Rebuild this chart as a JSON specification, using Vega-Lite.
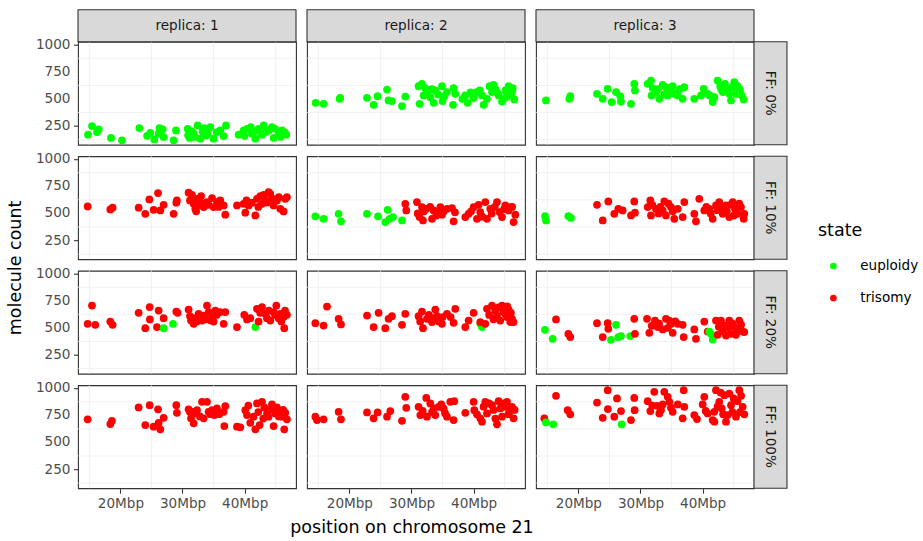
{
  "$schema": "https://vega.github.io/schema/vega-lite/v6.json",
  "background": "white",
  "padding": {"left": 6, "top": 7.7, "right": 5, "bottom": 5},
  "config": {
    "font": "DejaVu Sans",
    "view": {"stroke": "#333333", "strokeWidth": 1.1},
    "axis": {"domain": false, "labelFont": "DejaVu Sans", "labelFontSize": 13.6, "labelColor": "#4D4D4D", "tickColor": "#333333", "tickSize": 4.5, "tickWidth": 1.1, "gridColor": "#E6E6E6", "gridWidth": 1.3, "labelPadding": 3},
    "header": {"titleFont": "DejaVu Sans", "titleFontSize": 17.5, "titleFontWeight": "normal", "titleColor": "#000000"},
    "legend": {"titleFont": "DejaVu Sans", "labelFont": "DejaVu Sans", "symbolOffset": 8.6}
  },
  "data": {"values": [
{"r":1,"f":0,"x":14.79,"y":170,"s":"e"},{"r":1,"f":0,"x":15.43,"y":250,"s":"e"},{"r":1,"f":0,"x":16.24,"y":195,"s":"e"},{"r":1,"f":0,"x":16.51,"y":219,"s":"e"},{"r":1,"f":0,"x":18.49,"y":140,"s":"e"},{"r":1,"f":0,"x":20.26,"y":118,"s":"e"},{"r":1,"f":0,"x":23.05,"y":231,"s":"e"},{"r":1,"f":0,"x":24.3,"y":160,"s":"e"},{"r":1,"f":0,"x":24.82,"y":188,"s":"e"},{"r":1,"f":0,"x":25.46,"y":127,"s":"e"},{"r":1,"f":0,"x":26.16,"y":179,"s":"e"},{"r":1,"f":0,"x":26.3,"y":230,"s":"e"},{"r":1,"f":0,"x":26.8,"y":219,"s":"e"},{"r":1,"f":0,"x":26.96,"y":149,"s":"e"},{"r":1,"f":0,"x":28.57,"y":118,"s":"e"},{"r":1,"f":0,"x":28.95,"y":210,"s":"e"},{"r":1,"f":0,"x":30.83,"y":225,"s":"e"},{"r":1,"f":0,"x":30.9,"y":165,"s":"e"},{"r":1,"f":0,"x":31.15,"y":140,"s":"e"},{"r":1,"f":0,"x":31.5,"y":200,"s":"e"},{"r":1,"f":0,"x":31.79,"y":179,"s":"e"},{"r":1,"f":0,"x":32.0,"y":150,"s":"e"},{"r":1,"f":0,"x":32.44,"y":256,"s":"e"},{"r":1,"f":0,"x":32.87,"y":133,"s":"e"},{"r":1,"f":0,"x":33.24,"y":200,"s":"e"},{"r":1,"f":0,"x":33.5,"y":230,"s":"e"},{"r":1,"f":0,"x":33.83,"y":164,"s":"e"},{"r":1,"f":0,"x":34.0,"y":180,"s":"e"},{"r":1,"f":0,"x":34.48,"y":241,"s":"e"},{"r":1,"f":0,"x":35.01,"y":133,"s":"e"},{"r":1,"f":0,"x":35.5,"y":195,"s":"e"},{"r":1,"f":0,"x":36.09,"y":210,"s":"e"},{"r":1,"f":0,"x":36.62,"y":158,"s":"e"},{"r":1,"f":0,"x":37.0,"y":256,"s":"e"},{"r":1,"f":0,"x":39.04,"y":170,"s":"e"},{"r":1,"f":0,"x":39.84,"y":210,"s":"e"},{"r":1,"f":0,"x":40.0,"y":160,"s":"e"},{"r":1,"f":0,"x":40.38,"y":225,"s":"e"},{"r":1,"f":0,"x":41.0,"y":240,"s":"e"},{"r":1,"f":0,"x":41.18,"y":179,"s":"e"},{"r":1,"f":0,"x":41.72,"y":133,"s":"e"},{"r":1,"f":0,"x":42.0,"y":205,"s":"e"},{"r":1,"f":0,"x":42.26,"y":225,"s":"e"},{"r":1,"f":0,"x":42.8,"y":170,"s":"e"},{"r":1,"f":0,"x":43.06,"y":256,"s":"e"},{"r":1,"f":0,"x":43.4,"y":195,"s":"e"},{"r":1,"f":0,"x":43.87,"y":210,"s":"e"},{"r":1,"f":0,"x":44.41,"y":241,"s":"e"},{"r":1,"f":0,"x":44.68,"y":140,"s":"e"},{"r":1,"f":0,"x":44.9,"y":225,"s":"e"},{"r":1,"f":0,"x":45.48,"y":179,"s":"e"},{"r":1,"f":0,"x":45.8,"y":150,"s":"e"},{"r":1,"f":0,"x":46.01,"y":210,"s":"e"},{"r":1,"f":0,"x":46.4,"y":195,"s":"e"},{"r":1,"f":0,"x":46.71,"y":170,"s":"e"},
{"r":2,"f":0,"x":14.57,"y":464,"s":"e"},{"r":2,"f":0,"x":15.85,"y":455,"s":"e"},{"r":2,"f":0,"x":18.43,"y":501,"s":"e"},{"r":2,"f":0,"x":18.54,"y":510,"s":"e"},{"r":2,"f":0,"x":22.84,"y":510,"s":"e"},{"r":2,"f":0,"x":23.9,"y":446,"s":"e"},{"r":2,"f":0,"x":24.54,"y":526,"s":"e"},{"r":2,"f":0,"x":26.06,"y":587,"s":"e"},{"r":2,"f":0,"x":26.31,"y":486,"s":"e"},{"r":2,"f":0,"x":26.86,"y":480,"s":"e"},{"r":2,"f":0,"x":28.47,"y":434,"s":"e"},{"r":2,"f":0,"x":29.0,"y":522,"s":"e"},{"r":2,"f":0,"x":31.14,"y":618,"s":"e"},{"r":2,"f":0,"x":31.3,"y":455,"s":"e"},{"r":2,"f":0,"x":31.69,"y":639,"s":"e"},{"r":2,"f":0,"x":31.95,"y":532,"s":"e"},{"r":2,"f":0,"x":32.2,"y":600,"s":"e"},{"r":2,"f":0,"x":32.49,"y":568,"s":"e"},{"r":2,"f":0,"x":33.03,"y":516,"s":"e"},{"r":2,"f":0,"x":33.3,"y":590,"s":"e"},{"r":2,"f":0,"x":33.56,"y":464,"s":"e"},{"r":2,"f":0,"x":33.83,"y":578,"s":"e"},{"r":2,"f":0,"x":34.3,"y":540,"s":"e"},{"r":2,"f":0,"x":34.91,"y":618,"s":"e"},{"r":2,"f":0,"x":35.0,"y":480,"s":"e"},{"r":2,"f":0,"x":35.28,"y":526,"s":"e"},{"r":2,"f":0,"x":35.71,"y":563,"s":"e"},{"r":2,"f":0,"x":36.68,"y":446,"s":"e"},{"r":2,"f":0,"x":36.78,"y":600,"s":"e"},{"r":2,"f":0,"x":37.05,"y":547,"s":"e"},{"r":2,"f":0,"x":38.2,"y":500,"s":"e"},{"r":2,"f":0,"x":38.66,"y":532,"s":"e"},{"r":2,"f":0,"x":39.03,"y":464,"s":"e"},{"r":2,"f":0,"x":39.5,"y":560,"s":"e"},{"r":2,"f":0,"x":40.0,"y":508,"s":"e"},{"r":2,"f":0,"x":40.43,"y":563,"s":"e"},{"r":2,"f":0,"x":41.0,"y":580,"s":"e"},{"r":2,"f":0,"x":41.35,"y":532,"s":"e"},{"r":2,"f":0,"x":41.6,"y":446,"s":"e"},{"r":2,"f":0,"x":42.15,"y":501,"s":"e"},{"r":2,"f":0,"x":42.57,"y":618,"s":"e"},{"r":2,"f":0,"x":42.96,"y":563,"s":"e"},{"r":2,"f":0,"x":43.22,"y":630,"s":"e"},{"r":2,"f":0,"x":43.49,"y":593,"s":"e"},{"r":2,"f":0,"x":43.8,"y":560,"s":"e"},{"r":2,"f":0,"x":44.02,"y":532,"s":"e"},{"r":2,"f":0,"x":44.57,"y":476,"s":"e"},{"r":2,"f":0,"x":44.82,"y":501,"s":"e"},{"r":2,"f":0,"x":45.1,"y":578,"s":"e"},{"r":2,"f":0,"x":45.3,"y":520,"s":"e"},{"r":2,"f":0,"x":45.63,"y":618,"s":"e"},{"r":2,"f":0,"x":45.9,"y":532,"s":"e"},{"r":2,"f":0,"x":46.17,"y":563,"s":"e"},{"r":2,"f":0,"x":46.3,"y":600,"s":"e"},{"r":2,"f":0,"x":46.55,"y":495,"s":"e"},
{"r":3,"f":0,"x":14.79,"y":486,"s":"e"},{"r":3,"f":0,"x":18.54,"y":501,"s":"e"},{"r":3,"f":0,"x":18.7,"y":526,"s":"e"},{"r":3,"f":0,"x":23.0,"y":547,"s":"e"},{"r":3,"f":0,"x":23.92,"y":501,"s":"e"},{"r":3,"f":0,"x":24.72,"y":593,"s":"e"},{"r":3,"f":0,"x":25.36,"y":471,"s":"e"},{"r":3,"f":0,"x":26.06,"y":563,"s":"e"},{"r":3,"f":0,"x":26.75,"y":526,"s":"e"},{"r":3,"f":0,"x":26.86,"y":476,"s":"e"},{"r":3,"f":0,"x":28.47,"y":455,"s":"e"},{"r":3,"f":0,"x":29.0,"y":639,"s":"e"},{"r":3,"f":0,"x":29.11,"y":578,"s":"e"},{"r":3,"f":0,"x":31.16,"y":639,"s":"e"},{"r":3,"f":0,"x":31.69,"y":670,"s":"e"},{"r":3,"f":0,"x":31.8,"y":532,"s":"e"},{"r":3,"f":0,"x":31.96,"y":600,"s":"e"},{"r":3,"f":0,"x":32.49,"y":563,"s":"e"},{"r":3,"f":0,"x":32.8,"y":590,"s":"e"},{"r":3,"f":0,"x":33.03,"y":501,"s":"e"},{"r":3,"f":0,"x":33.57,"y":630,"s":"e"},{"r":3,"f":0,"x":33.8,"y":540,"s":"e"},{"r":3,"f":0,"x":34.1,"y":609,"s":"e"},{"r":3,"f":0,"x":34.38,"y":532,"s":"e"},{"r":3,"f":0,"x":34.7,"y":560,"s":"e"},{"r":3,"f":0,"x":35.18,"y":618,"s":"e"},{"r":3,"f":0,"x":35.44,"y":547,"s":"e"},{"r":3,"f":0,"x":35.99,"y":532,"s":"e"},{"r":3,"f":0,"x":36.3,"y":590,"s":"e"},{"r":3,"f":0,"x":36.79,"y":501,"s":"e"},{"r":3,"f":0,"x":37.05,"y":609,"s":"e"},{"r":3,"f":0,"x":38.66,"y":501,"s":"e"},{"r":3,"f":0,"x":39.74,"y":532,"s":"e"},{"r":3,"f":0,"x":40.17,"y":593,"s":"e"},{"r":3,"f":0,"x":40.81,"y":547,"s":"e"},{"r":3,"f":0,"x":41.2,"y":530,"s":"e"},{"r":3,"f":0,"x":41.62,"y":471,"s":"e"},{"r":3,"f":0,"x":41.88,"y":516,"s":"e"},{"r":3,"f":0,"x":42.42,"y":670,"s":"e"},{"r":3,"f":0,"x":42.84,"y":618,"s":"e"},{"r":3,"f":0,"x":43.0,"y":590,"s":"e"},{"r":3,"f":0,"x":43.23,"y":563,"s":"e"},{"r":3,"f":0,"x":43.6,"y":639,"s":"e"},{"r":3,"f":0,"x":44.03,"y":593,"s":"e"},{"r":3,"f":0,"x":44.29,"y":547,"s":"e"},{"r":3,"f":0,"x":44.57,"y":486,"s":"e"},{"r":3,"f":0,"x":44.84,"y":609,"s":"e"},{"r":3,"f":0,"x":45.1,"y":655,"s":"e"},{"r":3,"f":0,"x":45.37,"y":547,"s":"e"},{"r":3,"f":0,"x":45.6,"y":620,"s":"e"},{"r":3,"f":0,"x":45.9,"y":593,"s":"e"},{"r":3,"f":0,"x":46.0,"y":570,"s":"e"},{"r":3,"f":0,"x":46.29,"y":532,"s":"e"},{"r":3,"f":0,"x":46.61,"y":495,"s":"e"},
{"r":1,"f":10,"x":14.73,"y":565,"s":"t"},{"r":1,"f":10,"x":18.38,"y":537,"s":"t"},{"r":1,"f":10,"x":18.75,"y":553,"s":"t"},{"r":1,"f":10,"x":22.94,"y":553,"s":"t"},{"r":1,"f":10,"x":24.01,"y":497,"s":"t"},{"r":1,"f":10,"x":24.66,"y":629,"s":"t"},{"r":1,"f":10,"x":25.35,"y":534,"s":"t"},{"r":1,"f":10,"x":26.06,"y":688,"s":"t"},{"r":1,"f":10,"x":26.43,"y":528,"s":"t"},{"r":1,"f":10,"x":26.96,"y":580,"s":"t"},{"r":1,"f":10,"x":28.57,"y":497,"s":"t"},{"r":1,"f":10,"x":29.0,"y":599,"s":"t"},{"r":1,"f":10,"x":29.1,"y":620,"s":"t"},{"r":1,"f":10,"x":30.98,"y":691,"s":"t"},{"r":1,"f":10,"x":31.2,"y":620,"s":"t"},{"r":1,"f":10,"x":31.53,"y":672,"s":"t"},{"r":1,"f":10,"x":31.8,"y":589,"s":"t"},{"r":1,"f":10,"x":32.06,"y":543,"s":"t"},{"r":1,"f":10,"x":32.2,"y":520,"s":"t"},{"r":1,"f":10,"x":32.33,"y":635,"s":"t"},{"r":1,"f":10,"x":32.59,"y":574,"s":"t"},{"r":1,"f":10,"x":32.87,"y":605,"s":"t"},{"r":1,"f":10,"x":33.0,"y":660,"s":"t"},{"r":1,"f":10,"x":33.41,"y":559,"s":"t"},{"r":1,"f":10,"x":33.94,"y":605,"s":"t"},{"r":1,"f":10,"x":34.2,"y":580,"s":"t"},{"r":1,"f":10,"x":34.75,"y":642,"s":"t"},{"r":1,"f":10,"x":35.01,"y":559,"s":"t"},{"r":1,"f":10,"x":35.55,"y":605,"s":"t"},{"r":1,"f":10,"x":35.8,"y":560,"s":"t"},{"r":1,"f":10,"x":36.08,"y":620,"s":"t"},{"r":1,"f":10,"x":36.62,"y":574,"s":"t"},{"r":1,"f":10,"x":36.89,"y":488,"s":"t"},{"r":1,"f":10,"x":38.77,"y":574,"s":"t"},{"r":1,"f":10,"x":39.83,"y":589,"s":"t"},{"r":1,"f":10,"x":40.11,"y":507,"s":"t"},{"r":1,"f":10,"x":40.3,"y":620,"s":"t"},{"r":1,"f":10,"x":40.64,"y":574,"s":"t"},{"r":1,"f":10,"x":41.18,"y":599,"s":"t"},{"r":1,"f":10,"x":41.72,"y":482,"s":"t"},{"r":1,"f":10,"x":41.99,"y":635,"s":"t"},{"r":1,"f":10,"x":42.2,"y":560,"s":"t"},{"r":1,"f":10,"x":42.52,"y":660,"s":"t"},{"r":1,"f":10,"x":42.8,"y":589,"s":"t"},{"r":1,"f":10,"x":43.06,"y":672,"s":"t"},{"r":1,"f":10,"x":43.33,"y":620,"s":"t"},{"r":1,"f":10,"x":43.6,"y":600,"s":"t"},{"r":1,"f":10,"x":43.86,"y":697,"s":"t"},{"r":1,"f":10,"x":44.13,"y":681,"s":"t"},{"r":1,"f":10,"x":44.4,"y":640,"s":"t"},{"r":1,"f":10,"x":44.66,"y":574,"s":"t"},{"r":1,"f":10,"x":45.2,"y":620,"s":"t"},{"r":1,"f":10,"x":45.5,"y":650,"s":"t"},{"r":1,"f":10,"x":45.74,"y":543,"s":"t"},{"r":1,"f":10,"x":46.27,"y":519,"s":"t"},{"r":1,"f":10,"x":46.54,"y":635,"s":"t"},{"r":1,"f":10,"x":46.81,"y":651,"s":"t"},
{"r":2,"f":10,"x":14.52,"y":473,"s":"e"},{"r":2,"f":10,"x":15.85,"y":451,"s":"e"},{"r":2,"f":10,"x":18.27,"y":497,"s":"e"},{"r":2,"f":10,"x":18.65,"y":427,"s":"e"},{"r":2,"f":10,"x":22.84,"y":497,"s":"e"},{"r":2,"f":10,"x":24.61,"y":473,"s":"e"},{"r":2,"f":10,"x":25.78,"y":421,"s":"e"},{"r":2,"f":10,"x":26.15,"y":534,"s":"e"},{"r":2,"f":10,"x":26.47,"y":451,"s":"e"},{"r":2,"f":10,"x":27.02,"y":467,"s":"e"},{"r":2,"f":10,"x":28.47,"y":436,"s":"e"},{"r":2,"f":10,"x":29.0,"y":589,"s":"t"},{"r":2,"f":10,"x":29.16,"y":528,"s":"t"},{"r":2,"f":10,"x":30.88,"y":605,"s":"t"},{"r":2,"f":10,"x":31.0,"y":500,"s":"t"},{"r":2,"f":10,"x":31.3,"y":467,"s":"t"},{"r":2,"f":10,"x":31.69,"y":559,"s":"t"},{"r":2,"f":10,"x":31.85,"y":436,"s":"t"},{"r":2,"f":10,"x":32.0,"y":520,"s":"t"},{"r":2,"f":10,"x":32.38,"y":543,"s":"t"},{"r":2,"f":10,"x":33.0,"y":560,"s":"t"},{"r":2,"f":10,"x":33.3,"y":451,"s":"t"},{"r":2,"f":10,"x":33.56,"y":528,"s":"t"},{"r":2,"f":10,"x":34.0,"y":480,"s":"t"},{"r":2,"f":10,"x":34.2,"y":500,"s":"t"},{"r":2,"f":10,"x":34.64,"y":559,"s":"t"},{"r":2,"f":10,"x":34.91,"y":488,"s":"t"},{"r":2,"f":10,"x":35.2,"y":520,"s":"t"},{"r":2,"f":10,"x":35.71,"y":543,"s":"t"},{"r":2,"f":10,"x":36.52,"y":550,"s":"t"},{"r":2,"f":10,"x":36.78,"y":427,"s":"t"},{"r":2,"f":10,"x":37.0,"y":510,"s":"t"},{"r":2,"f":10,"x":38.66,"y":467,"s":"t"},{"r":2,"f":10,"x":39.19,"y":497,"s":"t"},{"r":2,"f":10,"x":39.6,"y":520,"s":"t"},{"r":2,"f":10,"x":40.0,"y":559,"s":"t"},{"r":2,"f":10,"x":40.54,"y":451,"s":"t"},{"r":2,"f":10,"x":40.8,"y":580,"s":"t"},{"r":2,"f":10,"x":41.07,"y":513,"s":"t"},{"r":2,"f":10,"x":41.4,"y":470,"s":"t"},{"r":2,"f":10,"x":41.88,"y":605,"s":"t"},{"r":2,"f":10,"x":42.15,"y":451,"s":"t"},{"r":2,"f":10,"x":42.68,"y":543,"s":"t"},{"r":2,"f":10,"x":42.9,"y":500,"s":"t"},{"r":2,"f":10,"x":43.4,"y":560,"s":"t"},{"r":2,"f":10,"x":43.76,"y":605,"s":"t"},{"r":2,"f":10,"x":44.18,"y":513,"s":"t"},{"r":2,"f":10,"x":44.57,"y":467,"s":"t"},{"r":2,"f":10,"x":44.9,"y":540,"s":"t"},{"r":2,"f":10,"x":45.1,"y":574,"s":"t"},{"r":2,"f":10,"x":45.63,"y":528,"s":"t"},{"r":2,"f":10,"x":45.9,"y":559,"s":"t"},{"r":2,"f":10,"x":46.2,"y":560,"s":"t"},{"r":2,"f":10,"x":46.43,"y":421,"s":"t"},{"r":2,"f":10,"x":46.71,"y":488,"s":"t"},
{"r":3,"f":10,"x":14.63,"y":476,"s":"e"},{"r":3,"f":10,"x":14.79,"y":436,"s":"e"},{"r":3,"f":10,"x":18.38,"y":476,"s":"e"},{"r":3,"f":10,"x":18.81,"y":458,"s":"e"},{"r":3,"f":10,"x":23.0,"y":580,"s":"t"},{"r":3,"f":10,"x":23.92,"y":436,"s":"t"},{"r":3,"f":10,"x":24.82,"y":611,"s":"t"},{"r":3,"f":10,"x":25.78,"y":497,"s":"t"},{"r":3,"f":10,"x":26.43,"y":543,"s":"t"},{"r":3,"f":10,"x":27.13,"y":528,"s":"t"},{"r":3,"f":10,"x":28.47,"y":482,"s":"t"},{"r":3,"f":10,"x":29.0,"y":611,"s":"t"},{"r":3,"f":10,"x":29.11,"y":507,"s":"t"},{"r":3,"f":10,"x":31.16,"y":559,"s":"t"},{"r":3,"f":10,"x":31.58,"y":620,"s":"t"},{"r":3,"f":10,"x":31.69,"y":482,"s":"t"},{"r":3,"f":10,"x":31.9,"y":580,"s":"t"},{"r":3,"f":10,"x":32.49,"y":543,"s":"t"},{"r":3,"f":10,"x":32.9,"y":500,"s":"t"},{"r":3,"f":10,"x":33.2,"y":560,"s":"t"},{"r":3,"f":10,"x":33.57,"y":528,"s":"t"},{"r":3,"f":10,"x":33.83,"y":611,"s":"t"},{"r":3,"f":10,"x":34.1,"y":482,"s":"t"},{"r":3,"f":10,"x":34.5,"y":590,"s":"t"},{"r":3,"f":10,"x":34.91,"y":559,"s":"t"},{"r":3,"f":10,"x":35.2,"y":520,"s":"t"},{"r":3,"f":10,"x":35.44,"y":451,"s":"t"},{"r":3,"f":10,"x":35.99,"y":543,"s":"t"},{"r":3,"f":10,"x":36.79,"y":467,"s":"t"},{"r":3,"f":10,"x":37.05,"y":605,"s":"t"},{"r":3,"f":10,"x":38.66,"y":497,"s":"t"},{"r":3,"f":10,"x":38.93,"y":427,"s":"t"},{"r":3,"f":10,"x":39.46,"y":635,"s":"t"},{"r":3,"f":10,"x":40.27,"y":528,"s":"t"},{"r":3,"f":10,"x":40.6,"y":560,"s":"t"},{"r":3,"f":10,"x":41.07,"y":543,"s":"t"},{"r":3,"f":10,"x":41.3,"y":500,"s":"t"},{"r":3,"f":10,"x":41.62,"y":451,"s":"t"},{"r":3,"f":10,"x":42.15,"y":574,"s":"t"},{"r":3,"f":10,"x":42.4,"y":530,"s":"t"},{"r":3,"f":10,"x":42.68,"y":605,"s":"t"},{"r":3,"f":10,"x":43.0,"y":560,"s":"t"},{"r":3,"f":10,"x":43.23,"y":497,"s":"t"},{"r":3,"f":10,"x":43.76,"y":574,"s":"t"},{"r":3,"f":10,"x":43.9,"y":520,"s":"t"},{"r":3,"f":10,"x":44.29,"y":467,"s":"t"},{"r":3,"f":10,"x":44.5,"y":580,"s":"t"},{"r":3,"f":10,"x":44.84,"y":605,"s":"t"},{"r":3,"f":10,"x":45.0,"y":480,"s":"t"},{"r":3,"f":10,"x":45.21,"y":543,"s":"t"},{"r":3,"f":10,"x":45.64,"y":497,"s":"t"},{"r":3,"f":10,"x":45.9,"y":590,"s":"t"},{"r":3,"f":10,"x":46.18,"y":559,"s":"t"},{"r":3,"f":10,"x":46.61,"y":451,"s":"t"},{"r":3,"f":10,"x":46.71,"y":497,"s":"t"},
{"r":1,"f":20,"x":14.73,"y":538,"s":"t"},{"r":1,"f":20,"x":15.43,"y":706,"s":"t"},{"r":1,"f":20,"x":15.96,"y":529,"s":"t"},{"r":1,"f":20,"x":18.38,"y":559,"s":"t"},{"r":1,"f":20,"x":18.75,"y":529,"s":"t"},{"r":1,"f":20,"x":22.94,"y":639,"s":"t"},{"r":1,"f":20,"x":24.01,"y":498,"s":"t"},{"r":1,"f":20,"x":24.71,"y":692,"s":"t"},{"r":1,"f":20,"x":24.75,"y":578,"s":"t"},{"r":1,"f":20,"x":25.89,"y":508,"s":"t"},{"r":1,"f":20,"x":26.16,"y":660,"s":"t"},{"r":1,"f":20,"x":26.96,"y":590,"s":"t"},{"r":1,"f":20,"x":26.96,"y":498,"s":"e"},{"r":1,"f":20,"x":28.47,"y":538,"s":"e"},{"r":1,"f":20,"x":29.0,"y":651,"s":"t"},{"r":1,"f":20,"x":29.21,"y":639,"s":"t"},{"r":1,"f":20,"x":30.98,"y":670,"s":"t"},{"r":1,"f":20,"x":31.2,"y":610,"s":"t"},{"r":1,"f":20,"x":31.37,"y":568,"s":"t"},{"r":1,"f":20,"x":31.8,"y":538,"s":"t"},{"r":1,"f":20,"x":32.06,"y":590,"s":"t"},{"r":1,"f":20,"x":32.3,"y":560,"s":"t"},{"r":1,"f":20,"x":32.59,"y":630,"s":"t"},{"r":1,"f":20,"x":33.14,"y":568,"s":"t"},{"r":1,"f":20,"x":33.41,"y":614,"s":"t"},{"r":1,"f":20,"x":33.7,"y":580,"s":"t"},{"r":1,"f":20,"x":33.94,"y":706,"s":"t"},{"r":1,"f":20,"x":34.2,"y":646,"s":"t"},{"r":1,"f":20,"x":34.5,"y":570,"s":"t"},{"r":1,"f":20,"x":34.75,"y":600,"s":"t"},{"r":1,"f":20,"x":35.01,"y":559,"s":"t"},{"r":1,"f":20,"x":35.28,"y":660,"s":"t"},{"r":1,"f":20,"x":35.5,"y":620,"s":"t"},{"r":1,"f":20,"x":36.08,"y":646,"s":"t"},{"r":1,"f":20,"x":36.62,"y":538,"s":"t"},{"r":1,"f":20,"x":36.89,"y":646,"s":"t"},{"r":1,"f":20,"x":38.77,"y":508,"s":"t"},{"r":1,"f":20,"x":39.94,"y":621,"s":"t"},{"r":1,"f":20,"x":40.38,"y":578,"s":"t"},{"r":1,"f":20,"x":40.91,"y":590,"s":"t"},{"r":1,"f":20,"x":41.99,"y":676,"s":"t"},{"r":1,"f":20,"x":41.72,"y":508,"s":"e"},{"r":1,"f":20,"x":42.25,"y":559,"s":"t"},{"r":1,"f":20,"x":42.5,"y":640,"s":"t"},{"r":1,"f":20,"x":42.8,"y":692,"s":"t"},{"r":1,"f":20,"x":43.33,"y":630,"s":"t"},{"r":1,"f":20,"x":43.6,"y":590,"s":"t"},{"r":1,"f":20,"x":43.9,"y":660,"s":"t"},{"r":1,"f":20,"x":44.13,"y":568,"s":"t"},{"r":1,"f":20,"x":44.66,"y":646,"s":"t"},{"r":1,"f":20,"x":44.9,"y":620,"s":"t"},{"r":1,"f":20,"x":45.1,"y":706,"s":"t"},{"r":1,"f":20,"x":45.47,"y":590,"s":"t"},{"r":1,"f":20,"x":45.74,"y":630,"s":"t"},{"r":1,"f":20,"x":45.9,"y":560,"s":"t"},{"r":1,"f":20,"x":46.27,"y":600,"s":"t"},{"r":1,"f":20,"x":46.38,"y":498,"s":"t"},{"r":1,"f":20,"x":46.5,"y":660,"s":"t"},{"r":1,"f":20,"x":46.81,"y":621,"s":"t"},
{"r":2,"f":20,"x":14.52,"y":544,"s":"t"},{"r":2,"f":20,"x":15.85,"y":522,"s":"t"},{"r":2,"f":20,"x":16.4,"y":697,"s":"t"},{"r":2,"f":20,"x":18.27,"y":584,"s":"t"},{"r":2,"f":20,"x":18.65,"y":532,"s":"t"},{"r":2,"f":20,"x":22.84,"y":614,"s":"t"},{"r":2,"f":20,"x":23.9,"y":508,"s":"t"},{"r":2,"f":20,"x":24.7,"y":639,"s":"t"},{"r":2,"f":20,"x":25.78,"y":498,"s":"t"},{"r":2,"f":20,"x":26.31,"y":584,"s":"t"},{"r":2,"f":20,"x":26.86,"y":608,"s":"t"},{"r":2,"f":20,"x":28.47,"y":529,"s":"t"},{"r":2,"f":20,"x":29.0,"y":630,"s":"t"},{"r":2,"f":20,"x":31.14,"y":608,"s":"t"},{"r":2,"f":20,"x":31.4,"y":560,"s":"t"},{"r":2,"f":20,"x":31.69,"y":651,"s":"t"},{"r":2,"f":20,"x":31.85,"y":498,"s":"t"},{"r":2,"f":20,"x":32.49,"y":584,"s":"t"},{"r":2,"f":20,"x":32.8,"y":620,"s":"t"},{"r":2,"f":20,"x":33.3,"y":554,"s":"t"},{"r":2,"f":20,"x":33.5,"y":590,"s":"t"},{"r":2,"f":20,"x":33.83,"y":670,"s":"t"},{"r":2,"f":20,"x":34.1,"y":608,"s":"t"},{"r":2,"f":20,"x":34.4,"y":560,"s":"t"},{"r":2,"f":20,"x":34.91,"y":538,"s":"t"},{"r":2,"f":20,"x":35.0,"y":600,"s":"t"},{"r":2,"f":20,"x":35.71,"y":630,"s":"t"},{"r":2,"f":20,"x":36.3,"y":600,"s":"t"},{"r":2,"f":20,"x":36.78,"y":547,"s":"t"},{"r":2,"f":20,"x":37.05,"y":676,"s":"t"},{"r":2,"f":20,"x":38.66,"y":508,"s":"t"},{"r":2,"f":20,"x":39.19,"y":568,"s":"t"},{"r":2,"f":20,"x":40.0,"y":639,"s":"t"},{"r":2,"f":20,"x":41.07,"y":538,"s":"e"},{"r":2,"f":20,"x":41.35,"y":508,"s":"e"},{"r":2,"f":20,"x":41.07,"y":554,"s":"t"},{"r":2,"f":20,"x":41.88,"y":538,"s":"t"},{"r":2,"f":20,"x":42.15,"y":676,"s":"t"},{"r":2,"f":20,"x":42.5,"y":620,"s":"t"},{"r":2,"f":20,"x":42.96,"y":706,"s":"t"},{"r":2,"f":20,"x":43.2,"y":580,"s":"t"},{"r":2,"f":20,"x":43.49,"y":660,"s":"t"},{"r":2,"f":20,"x":43.76,"y":614,"s":"t"},{"r":2,"f":20,"x":44.0,"y":690,"s":"t"},{"r":2,"f":20,"x":44.29,"y":568,"s":"t"},{"r":2,"f":20,"x":44.57,"y":706,"s":"t"},{"r":2,"f":20,"x":44.8,"y":650,"s":"t"},{"r":2,"f":20,"x":45.1,"y":630,"s":"t"},{"r":2,"f":20,"x":45.37,"y":600,"s":"t"},{"r":2,"f":20,"x":45.4,"y":700,"s":"t"},{"r":2,"f":20,"x":45.63,"y":670,"s":"t"},{"r":2,"f":20,"x":45.9,"y":554,"s":"t"},{"r":2,"f":20,"x":46.0,"y":640,"s":"t"},{"r":2,"f":20,"x":46.17,"y":584,"s":"t"},{"r":2,"f":20,"x":46.43,"y":554,"s":"t"},
{"r":3,"f":20,"x":14.63,"y":483,"s":"e"},{"r":3,"f":20,"x":15.87,"y":400,"s":"e"},{"r":3,"f":20,"x":16.4,"y":578,"s":"t"},{"r":3,"f":20,"x":18.38,"y":446,"s":"t"},{"r":3,"f":20,"x":18.7,"y":416,"s":"t"},{"r":3,"f":20,"x":23.0,"y":544,"s":"t"},{"r":3,"f":20,"x":23.92,"y":416,"s":"t"},{"r":3,"f":20,"x":24.72,"y":544,"s":"t"},{"r":3,"f":20,"x":24.82,"y":492,"s":"t"},{"r":3,"f":20,"x":25.25,"y":391,"s":"e"},{"r":3,"f":20,"x":26.06,"y":529,"s":"e"},{"r":3,"f":20,"x":26.43,"y":416,"s":"e"},{"r":3,"f":20,"x":26.86,"y":425,"s":"e"},{"r":3,"f":20,"x":28.36,"y":425,"s":"e"},{"r":3,"f":20,"x":29.0,"y":584,"s":"t"},{"r":3,"f":20,"x":29.11,"y":446,"s":"t"},{"r":3,"f":20,"x":31.05,"y":584,"s":"t"},{"r":3,"f":20,"x":31.42,"y":455,"s":"t"},{"r":3,"f":20,"x":31.8,"y":520,"s":"t"},{"r":3,"f":20,"x":32.33,"y":568,"s":"t"},{"r":3,"f":20,"x":32.77,"y":508,"s":"t"},{"r":3,"f":20,"x":33.0,"y":540,"s":"t"},{"r":3,"f":20,"x":33.57,"y":486,"s":"t"},{"r":3,"f":20,"x":34.1,"y":584,"s":"t"},{"r":3,"f":20,"x":34.4,"y":500,"s":"t"},{"r":3,"f":20,"x":34.64,"y":568,"s":"t"},{"r":3,"f":20,"x":34.91,"y":538,"s":"t"},{"r":3,"f":20,"x":35.18,"y":455,"s":"t"},{"r":3,"f":20,"x":35.6,"y":560,"s":"t"},{"r":3,"f":20,"x":35.99,"y":538,"s":"t"},{"r":3,"f":20,"x":36.79,"y":529,"s":"t"},{"r":3,"f":20,"x":36.95,"y":416,"s":"t"},{"r":3,"f":20,"x":38.66,"y":486,"s":"t"},{"r":3,"f":20,"x":38.93,"y":400,"s":"t"},{"r":3,"f":20,"x":40.27,"y":559,"s":"t"},{"r":3,"f":20,"x":40.81,"y":467,"s":"t"},{"r":3,"f":20,"x":41.07,"y":467,"s":"e"},{"r":3,"f":20,"x":41.35,"y":446,"s":"e"},{"r":3,"f":20,"x":41.62,"y":394,"s":"e"},{"r":3,"f":20,"x":42.15,"y":568,"s":"t"},{"r":3,"f":20,"x":42.42,"y":437,"s":"t"},{"r":3,"f":20,"x":42.6,"y":510,"s":"t"},{"r":3,"f":20,"x":42.96,"y":568,"s":"t"},{"r":3,"f":20,"x":43.2,"y":470,"s":"t"},{"r":3,"f":20,"x":43.49,"y":522,"s":"t"},{"r":3,"f":20,"x":43.76,"y":430,"s":"t"},{"r":3,"f":20,"x":44.0,"y":500,"s":"t"},{"r":3,"f":20,"x":44.29,"y":568,"s":"t"},{"r":3,"f":20,"x":44.57,"y":446,"s":"t"},{"r":3,"f":20,"x":44.8,"y":540,"s":"t"},{"r":3,"f":20,"x":45.1,"y":508,"s":"t"},{"r":3,"f":20,"x":45.37,"y":437,"s":"t"},{"r":3,"f":20,"x":45.6,"y":480,"s":"t"},{"r":3,"f":20,"x":45.9,"y":568,"s":"t"},{"r":3,"f":20,"x":46.2,"y":530,"s":"t"},{"r":3,"f":20,"x":46.45,"y":467,"s":"t"},{"r":3,"f":20,"x":46.71,"y":462,"s":"t"},
{"r":1,"f":100,"x":14.73,"y":713,"s":"t"},{"r":1,"f":100,"x":18.38,"y":670,"s":"t"},{"r":1,"f":100,"x":18.64,"y":700,"s":"t"},{"r":1,"f":100,"x":22.94,"y":823,"s":"t"},{"r":1,"f":100,"x":24.01,"y":660,"s":"t"},{"r":1,"f":100,"x":24.71,"y":844,"s":"t"},{"r":1,"f":100,"x":25.35,"y":645,"s":"t"},{"r":1,"f":100,"x":26.06,"y":805,"s":"t"},{"r":1,"f":100,"x":26.16,"y":681,"s":"t"},{"r":1,"f":100,"x":26.43,"y":621,"s":"t"},{"r":1,"f":100,"x":26.96,"y":727,"s":"t"},{"r":1,"f":100,"x":29.0,"y":844,"s":"t"},{"r":1,"f":100,"x":29.1,"y":773,"s":"t"},{"r":1,"f":100,"x":30.98,"y":805,"s":"t"},{"r":1,"f":100,"x":31.2,"y":780,"s":"t"},{"r":1,"f":100,"x":31.37,"y":722,"s":"t"},{"r":1,"f":100,"x":31.69,"y":783,"s":"t"},{"r":1,"f":100,"x":31.8,"y":676,"s":"t"},{"r":1,"f":100,"x":32.06,"y":768,"s":"t"},{"r":1,"f":100,"x":32.33,"y":798,"s":"t"},{"r":1,"f":100,"x":32.8,"y":740,"s":"t"},{"r":1,"f":100,"x":33.14,"y":875,"s":"t"},{"r":1,"f":100,"x":33.41,"y":722,"s":"t"},{"r":1,"f":100,"x":33.94,"y":875,"s":"t"},{"r":1,"f":100,"x":34.2,"y":783,"s":"t"},{"r":1,"f":100,"x":34.5,"y":760,"s":"t"},{"r":1,"f":100,"x":34.75,"y":798,"s":"t"},{"r":1,"f":100,"x":35.12,"y":752,"s":"t"},{"r":1,"f":100,"x":35.55,"y":814,"s":"t"},{"r":1,"f":100,"x":35.9,"y":760,"s":"t"},{"r":1,"f":100,"x":36.62,"y":783,"s":"t"},{"r":1,"f":100,"x":36.73,"y":651,"s":"t"},{"r":1,"f":100,"x":36.89,"y":835,"s":"t"},{"r":1,"f":100,"x":38.77,"y":645,"s":"t"},{"r":1,"f":100,"x":39.3,"y":639,"s":"t"},{"r":1,"f":100,"x":40.11,"y":798,"s":"t"},{"r":1,"f":100,"x":40.38,"y":752,"s":"t"},{"r":1,"f":100,"x":40.6,"y":840,"s":"t"},{"r":1,"f":100,"x":40.91,"y":681,"s":"t"},{"r":1,"f":100,"x":41.45,"y":737,"s":"t"},{"r":1,"f":100,"x":41.72,"y":621,"s":"t"},{"r":1,"f":100,"x":41.99,"y":860,"s":"t"},{"r":1,"f":100,"x":42.2,"y":780,"s":"t"},{"r":1,"f":100,"x":42.41,"y":660,"s":"t"},{"r":1,"f":100,"x":42.8,"y":875,"s":"t"},{"r":1,"f":100,"x":43.0,"y":720,"s":"t"},{"r":1,"f":100,"x":43.17,"y":823,"s":"t"},{"r":1,"f":100,"x":43.6,"y":768,"s":"t"},{"r":1,"f":100,"x":43.86,"y":737,"s":"t"},{"r":1,"f":100,"x":44.24,"y":805,"s":"t"},{"r":1,"f":100,"x":44.4,"y":850,"s":"t"},{"r":1,"f":100,"x":44.66,"y":651,"s":"t"},{"r":1,"f":100,"x":44.93,"y":768,"s":"t"},{"r":1,"f":100,"x":45.2,"y":823,"s":"t"},{"r":1,"f":100,"x":45.5,"y":740,"s":"t"},{"r":1,"f":100,"x":45.74,"y":783,"s":"t"},{"r":1,"f":100,"x":46.0,"y":737,"s":"t"},{"r":1,"f":100,"x":46.2,"y":800,"s":"t"},{"r":1,"f":100,"x":46.38,"y":621,"s":"t"},{"r":1,"f":100,"x":46.54,"y":773,"s":"t"},{"r":1,"f":100,"x":46.81,"y":713,"s":"t"},
{"r":2,"f":100,"x":14.52,"y":737,"s":"t"},{"r":2,"f":100,"x":14.79,"y":706,"s":"t"},{"r":2,"f":100,"x":15.85,"y":713,"s":"t"},{"r":2,"f":100,"x":18.27,"y":783,"s":"t"},{"r":2,"f":100,"x":18.65,"y":713,"s":"t"},{"r":2,"f":100,"x":22.84,"y":777,"s":"t"},{"r":2,"f":100,"x":23.9,"y":722,"s":"t"},{"r":2,"f":100,"x":24.54,"y":777,"s":"t"},{"r":2,"f":100,"x":26.06,"y":737,"s":"t"},{"r":2,"f":100,"x":26.59,"y":789,"s":"t"},{"r":2,"f":100,"x":28.47,"y":700,"s":"t"},{"r":2,"f":100,"x":29.0,"y":921,"s":"t"},{"r":2,"f":100,"x":29.16,"y":819,"s":"t"},{"r":2,"f":100,"x":31.14,"y":829,"s":"t"},{"r":2,"f":100,"x":31.42,"y":752,"s":"t"},{"r":2,"f":100,"x":31.8,"y":790,"s":"t"},{"r":2,"f":100,"x":32.38,"y":911,"s":"t"},{"r":2,"f":100,"x":32.49,"y":737,"s":"t"},{"r":2,"f":100,"x":33.03,"y":860,"s":"t"},{"r":2,"f":100,"x":33.3,"y":780,"s":"t"},{"r":2,"f":100,"x":33.56,"y":814,"s":"t"},{"r":2,"f":100,"x":33.83,"y":752,"s":"t"},{"r":2,"f":100,"x":34.36,"y":829,"s":"t"},{"r":2,"f":100,"x":34.8,"y":850,"s":"t"},{"r":2,"f":100,"x":35.17,"y":814,"s":"t"},{"r":2,"f":100,"x":35.4,"y":770,"s":"t"},{"r":2,"f":100,"x":35.71,"y":737,"s":"t"},{"r":2,"f":100,"x":36.25,"y":875,"s":"t"},{"r":2,"f":100,"x":36.78,"y":706,"s":"t"},{"r":2,"f":100,"x":36.89,"y":881,"s":"t"},{"r":2,"f":100,"x":38.66,"y":773,"s":"t"},{"r":2,"f":100,"x":40.0,"y":875,"s":"t"},{"r":2,"f":100,"x":40.11,"y":798,"s":"t"},{"r":2,"f":100,"x":40.54,"y":759,"s":"t"},{"r":2,"f":100,"x":41.07,"y":722,"s":"t"},{"r":2,"f":100,"x":41.35,"y":691,"s":"t"},{"r":2,"f":100,"x":41.6,"y":830,"s":"t"},{"r":2,"f":100,"x":41.88,"y":875,"s":"t"},{"r":2,"f":100,"x":42.15,"y":768,"s":"t"},{"r":2,"f":100,"x":42.5,"y":860,"s":"t"},{"r":2,"f":100,"x":42.96,"y":844,"s":"t"},{"r":2,"f":100,"x":43.2,"y":800,"s":"t"},{"r":2,"f":100,"x":43.5,"y":720,"s":"t"},{"r":2,"f":100,"x":43.76,"y":667,"s":"t"},{"r":2,"f":100,"x":44.02,"y":881,"s":"t"},{"r":2,"f":100,"x":44.29,"y":814,"s":"t"},{"r":2,"f":100,"x":44.57,"y":737,"s":"t"},{"r":2,"f":100,"x":44.8,"y":860,"s":"t"},{"r":2,"f":100,"x":45.1,"y":829,"s":"t"},{"r":2,"f":100,"x":45.37,"y":875,"s":"t"},{"r":2,"f":100,"x":45.6,"y":760,"s":"t"},{"r":2,"f":100,"x":45.9,"y":789,"s":"t"},{"r":2,"f":100,"x":46.17,"y":829,"s":"t"},{"r":2,"f":100,"x":46.43,"y":722,"s":"t"},{"r":2,"f":100,"x":46.6,"y":800,"s":"t"},
{"r":3,"f":100,"x":14.52,"y":722,"s":"t"},{"r":3,"f":100,"x":14.79,"y":685,"s":"e"},{"r":3,"f":100,"x":15.97,"y":667,"s":"e"},{"r":3,"f":100,"x":16.4,"y":930,"s":"t"},{"r":3,"f":100,"x":18.28,"y":798,"s":"t"},{"r":3,"f":100,"x":18.7,"y":759,"s":"t"},{"r":3,"f":100,"x":23.0,"y":868,"s":"t"},{"r":3,"f":100,"x":23.92,"y":727,"s":"t"},{"r":3,"f":100,"x":24.72,"y":982,"s":"t"},{"r":3,"f":100,"x":24.75,"y":808,"s":"t"},{"r":3,"f":100,"x":25.78,"y":737,"s":"t"},{"r":3,"f":100,"x":26.22,"y":906,"s":"t"},{"r":3,"f":100,"x":26.86,"y":789,"s":"t"},{"r":3,"f":100,"x":26.97,"y":667,"s":"e"},{"r":3,"f":100,"x":28.47,"y":706,"s":"t"},{"r":3,"f":100,"x":29.0,"y":911,"s":"t"},{"r":3,"f":100,"x":29.05,"y":798,"s":"t"},{"r":3,"f":100,"x":31.16,"y":881,"s":"t"},{"r":3,"f":100,"x":31.58,"y":789,"s":"t"},{"r":3,"f":100,"x":31.9,"y":840,"s":"t"},{"r":3,"f":100,"x":32.22,"y":967,"s":"t"},{"r":3,"f":100,"x":32.66,"y":838,"s":"t"},{"r":3,"f":100,"x":33.03,"y":768,"s":"t"},{"r":3,"f":100,"x":33.3,"y":800,"s":"t"},{"r":3,"f":100,"x":33.57,"y":851,"s":"t"},{"r":3,"f":100,"x":33.83,"y":967,"s":"t"},{"r":3,"f":100,"x":34.38,"y":921,"s":"t"},{"r":3,"f":100,"x":34.64,"y":875,"s":"t"},{"r":3,"f":100,"x":34.9,"y":820,"s":"t"},{"r":3,"f":100,"x":35.18,"y":783,"s":"t"},{"r":3,"f":100,"x":35.99,"y":851,"s":"t"},{"r":3,"f":100,"x":36.79,"y":722,"s":"t"},{"r":3,"f":100,"x":36.95,"y":982,"s":"t"},{"r":3,"f":100,"x":37.05,"y":829,"s":"t"},{"r":3,"f":100,"x":38.66,"y":752,"s":"t"},{"r":3,"f":100,"x":39.09,"y":716,"s":"t"},{"r":3,"f":100,"x":40.01,"y":851,"s":"t"},{"r":3,"f":100,"x":40.27,"y":921,"s":"t"},{"r":3,"f":100,"x":40.5,"y":790,"s":"t"},{"r":3,"f":100,"x":40.81,"y":768,"s":"t"},{"r":3,"f":100,"x":41.62,"y":706,"s":"t"},{"r":3,"f":100,"x":41.88,"y":783,"s":"t"},{"r":3,"f":100,"x":41.9,"y":691,"s":"t"},{"r":3,"f":100,"x":42.15,"y":982,"s":"t"},{"r":3,"f":100,"x":42.4,"y":830,"s":"t"},{"r":3,"f":100,"x":42.68,"y":875,"s":"t"},{"r":3,"f":100,"x":42.9,"y":960,"s":"t"},{"r":3,"f":100,"x":43.07,"y":814,"s":"t"},{"r":3,"f":100,"x":43.3,"y":760,"s":"t"},{"r":3,"f":100,"x":43.49,"y":936,"s":"t"},{"r":3,"f":100,"x":43.76,"y":691,"s":"t"},{"r":3,"f":100,"x":44.03,"y":752,"s":"t"},{"r":3,"f":100,"x":44.3,"y":950,"s":"t"},{"r":3,"f":100,"x":44.57,"y":844,"s":"t"},{"r":3,"f":100,"x":44.8,"y":780,"s":"t"},{"r":3,"f":100,"x":45.0,"y":906,"s":"t"},{"r":3,"f":100,"x":45.37,"y":737,"s":"t"},{"r":3,"f":100,"x":45.6,"y":880,"s":"t"},{"r":3,"f":100,"x":45.9,"y":982,"s":"t"},{"r":3,"f":100,"x":46.0,"y":780,"s":"t"},{"r":3,"f":100,"x":46.2,"y":930,"s":"t"},{"r":3,"f":100,"x":46.45,"y":829,"s":"t"},{"r":3,"f":100,"x":46.71,"y":759,"s":"t"}
  ]},
  "facet": {
    "row": {"field": "f", "type": "ordinal", "sort": [0, 10, 20, 100], "header": {"labels": false, "title": "molecule count\u2800\u2800\u2800", "titlePadding": 1}},
    "column": {"field": "r", "type": "ordinal", "sort": [1, 2, 3], "header": {"labels": false, "title": "position on chromosome 21", "titleOrient": "bottom", "titlePadding": -2}}
  },
  "spacing": {"row": 11.5, "column": 11},
  "bounds": "flush",
  "spec": {
    "width": 218,
    "height": 103,
    "layer": [
      {
        "transform": [{"aggregate": [{"op": "count", "as": "n"}], "groupby": ["r", "f"]}],
        "mark": {"type": "rule", "color": "#EBEBEB", "strokeWidth": 0.7},
        "encoding": {"x": {"datum": 15}}
      },
      {
        "transform": [{"aggregate": [{"op": "count", "as": "n"}], "groupby": ["r", "f"]}],
        "mark": {"type": "rule", "color": "#EBEBEB", "strokeWidth": 0.7},
        "encoding": {"x": {"datum": 25}}
      },
      {
        "transform": [{"aggregate": [{"op": "count", "as": "n"}], "groupby": ["r", "f"]}],
        "mark": {"type": "rule", "color": "#EBEBEB", "strokeWidth": 0.7},
        "encoding": {"x": {"datum": 35}}
      },
      {
        "transform": [{"aggregate": [{"op": "count", "as": "n"}], "groupby": ["r", "f"]}],
        "mark": {"type": "rule", "color": "#EBEBEB", "strokeWidth": 0.7},
        "encoding": {"x": {"datum": 45}}
      },
      {
        "transform": [{"aggregate": [{"op": "count", "as": "n"}], "groupby": ["r", "f"]}],
        "mark": {"type": "rule", "color": "#EBEBEB", "strokeWidth": 0.7},
        "encoding": {"y": {"datum": 125}}
      },
      {
        "transform": [{"aggregate": [{"op": "count", "as": "n"}], "groupby": ["r", "f"]}],
        "mark": {"type": "rule", "color": "#EBEBEB", "strokeWidth": 0.7},
        "encoding": {"y": {"datum": 375}}
      },
      {
        "transform": [{"aggregate": [{"op": "count", "as": "n"}], "groupby": ["r", "f"]}],
        "mark": {"type": "rule", "color": "#EBEBEB", "strokeWidth": 0.7},
        "encoding": {"y": {"datum": 625}}
      },
      {
        "transform": [{"aggregate": [{"op": "count", "as": "n"}], "groupby": ["r", "f"]}],
        "mark": {"type": "rule", "color": "#EBEBEB", "strokeWidth": 0.7},
        "encoding": {"y": {"datum": 875}}
      },
      {
        "mark": {"type": "circle", "size": 60, "opacity": 1},
        "encoding": {
          "x": {"field": "x", "type": "quantitative", "scale": {"domain": [13.18, 48.27], "nice": false, "zero": false},
            "axis": {"title": null, "values": [20, 30, 40], "labelExpr": "datum.value + 'Mbp'"}},
          "y": {"field": "y", "type": "quantitative", "scale": {"domain": [78, 1028], "nice": false, "zero": false},
            "axis": {"title": null, "values": [250, 500, 750, 1000], "format": "d", "labelColor": "rgba(0,0,0,0)"}},
          "color": {"field": "s", "type": "nominal", "scale": {"domain": ["e", "t"], "range": ["#00FF00", "#FF0000"]},
            "legend": {"title": "state", "orient": "none", "legendX": 740, "legendY": 180,
              "titleFontSize": 17.5, "titleFontWeight": "normal", "titleColor": "#000000", "titlePadding": 20,
              "labelFontSize": 13.6, "labelColor": "#000000", "symbolType": "circle", "symbolSize": 45,
              "rowPadding": 17, "symbolOffset": 8.6, "labelOffset": 20,
              "labelExpr": "datum.label == 'e' ? 'euploidy' : 'trisomy'"}}
        }
      },
      {
        "transform": [{"filter": "datum.r == 1"}, {"aggregate": [{"op": "count", "as": "n"}], "groupby": ["r", "f"]}],
        "mark": {"type": "text", "fontSize": 13.6, "color": "#4D4D4D", "align": "right", "baseline": "middle"},
        "encoding": {"x": {"datum": 11.97}, "y": {"datum": 250}, "text": {"value": "250"}}
      },
      {
        "transform": [{"filter": "datum.r == 1"}, {"aggregate": [{"op": "count", "as": "n"}], "groupby": ["r", "f"]}],
        "mark": {"type": "text", "fontSize": 13.6, "color": "#4D4D4D", "align": "right", "baseline": "middle"},
        "encoding": {"x": {"datum": 11.97}, "y": {"datum": 500}, "text": {"value": "500"}}
      },
      {
        "transform": [{"filter": "datum.r == 1"}, {"aggregate": [{"op": "count", "as": "n"}], "groupby": ["r", "f"]}],
        "mark": {"type": "text", "fontSize": 13.6, "color": "#4D4D4D", "align": "right", "baseline": "middle"},
        "encoding": {"x": {"datum": 11.97}, "y": {"datum": 750}, "text": {"value": "750"}}
      },
      {
        "transform": [{"filter": "datum.r == 1"}, {"aggregate": [{"op": "count", "as": "n"}], "groupby": ["r", "f"]}],
        "mark": {"type": "text", "fontSize": 13.6, "color": "#4D4D4D", "align": "right", "baseline": "middle"},
        "encoding": {"x": {"datum": 11.97}, "y": {"datum": 1000}, "text": {"value": "1000"}}
      },
      {
        "transform": [{"filter": "datum.f == 0"}, {"aggregate": [{"op": "count", "as": "n"}], "groupby": ["r", "f"]}, {"calculate": "'replica: ' + datum.r", "as": "label"}],
        "mark": {"type": "rect", "fill": "#D9D9D9", "stroke": "#333333", "strokeWidth": 1.1},
        "encoding": {"x": {"datum": 13.18}, "x2": {"datum": 48.27}, "y": {"datum": 1028}, "y2": {"datum": 1323}}
      },
      {
        "transform": [{"filter": "datum.f == 0"}, {"aggregate": [{"op": "count", "as": "n"}], "groupby": ["r", "f"]}, {"calculate": "'replica: ' + datum.r", "as": "label"}],
        "mark": {"type": "text", "fontSize": 13.6, "color": "#1A1A1A", "align": "center", "baseline": "middle"},
        "encoding": {"x": {"datum": 30.725}, "y": {"datum": 1175.5}, "text": {"field": "label"}}
      },
      {
        "transform": [{"filter": "datum.r == 3"}, {"aggregate": [{"op": "count", "as": "n"}], "groupby": ["r", "f"]}, {"calculate": "'FF: ' + datum.f + '%'", "as": "label"}],
        "mark": {"type": "rect", "fill": "#D9D9D9", "stroke": "#333333", "strokeWidth": 1.1},
        "encoding": {"x": {"datum": 48.27}, "x2": {"datum": 53.58}, "y": {"datum": 78}, "y2": {"datum": 1028}}
      },
      {
        "transform": [{"filter": "datum.r == 3"}, {"aggregate": [{"op": "count", "as": "n"}], "groupby": ["r", "f"]}, {"calculate": "'FF: ' + datum.f + '%'", "as": "label"}],
        "mark": {"type": "text", "fontSize": 13.6, "color": "#1A1A1A", "align": "center", "baseline": "middle", "angle": 90},
        "encoding": {"x": {"datum": 50.925}, "y": {"datum": 553}, "text": {"field": "label"}}
      }
    ]
  }
}
